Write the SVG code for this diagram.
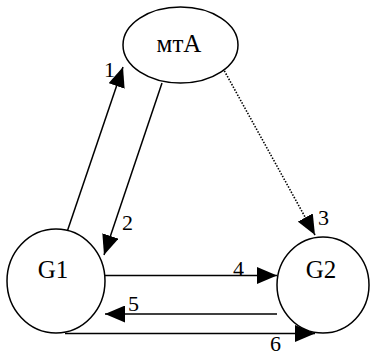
<svg xmlns="http://www.w3.org/2000/svg" width="370" height="356" viewBox="0 0 370 356">
  <style>
    .node { fill: #fff; stroke: #000; stroke-width: 1.5; }
    .name { font-size: 25px; fill: #000; text-anchor: middle; }
    .edge { stroke: #000; stroke-width: 1.5; fill: none; }
    .dotted { stroke-dasharray: 1.5 1.5; stroke-width: 1.6; }
    .num { font-size: 22px; fill: #000; }
  </style>
  <defs>
    <marker id="head" markerUnits="userSpaceOnUse" markerWidth="20" markerHeight="17" refX="20" refY="8.5" orient="auto">
      <path d="M0,0 L20,8.5 L0,17 z" fill="#000"/>
    </marker>
  </defs>
  <rect width="370" height="356" fill="#fff"/>

  <g id="connectors">
    <line class="edge" x1="67" y1="232" x2="123" y2="67" marker-end="url(#head)"/>
    <line class="edge" x1="162" y1="83" x2="104" y2="255" marker-end="url(#head)"/>
    <line class="edge dotted" x1="220" y1="63" x2="315" y2="235" marker-end="url(#head)"/>
    <line class="edge" x1="105" y1="275.5" x2="277" y2="275.5" marker-end="url(#head)"/>
    <line class="edge" x1="277" y1="314" x2="105" y2="314" marker-end="url(#head)"/>
    <line class="edge" x1="65" y1="333.5" x2="315" y2="333.5" marker-end="url(#head)"/>
    <g font-family="Liberation Serif, serif">
      <text class="num" x="104" y="77">1</text>
      <text class="num" x="122" y="230">2</text>
      <text class="num" x="318" y="225">3</text>
      <text class="num" x="233" y="276">4</text>
      <text class="num" x="128" y="311">5</text>
      <text class="num" x="270" y="351">6</text>
    </g>
  </g>

  <g id="mta" font-family="Liberation Serif, serif">
    <ellipse class="node" cx="180.5" cy="45" rx="57.5" ry="38"/>
    <text class="name" x="179" y="52">мтА</text>
  </g>
  <g id="g1" font-family="Liberation Serif, serif">
    <ellipse class="node" cx="56" cy="281" rx="49" ry="52"/>
    <text class="name" x="53" y="278">G1</text>
  </g>
  <g id="g2" font-family="Liberation Serif, serif">
    <ellipse class="node" cx="323" cy="285" rx="46" ry="48"/>
    <text class="name" x="321" y="278">G2</text>
  </g>
</svg>
